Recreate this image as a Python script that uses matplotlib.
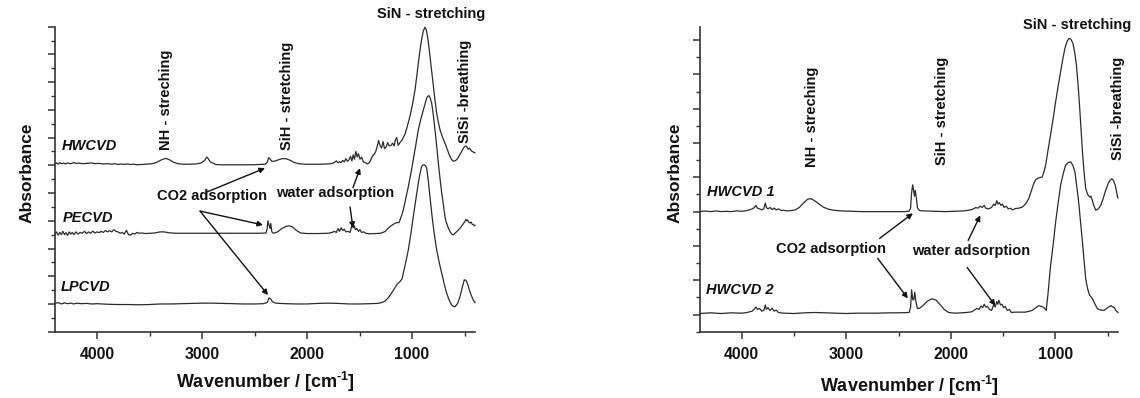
import matplotlib
matplotlib.use("Agg")
import matplotlib.pyplot as plt
from matplotlib.ticker import MultipleLocator, NullFormatter

plt.rcParams['font.family'] = ['Liberation Sans', 'DejaVu Sans']
plt.rcParams['font.weight'] = 'bold'
plt.rcParams['mathtext.fontset'] = 'custom'
plt.rcParams['mathtext.rm'] = 'Liberation Sans:bold'
plt.rcParams['mathtext.bf'] = 'Liberation Sans:bold'
plt.rcParams['mathtext.it'] = 'Liberation Sans:bold:italic'

# ---------------- spectra (wavenumber in cm^-1, absorbance with stacking offset) ----------------
left_hwcvd_wn = [4400, 4385, 4370, 4355, 4340, 4320, 4300, 4280, 4260, 4240, 4220, 4200, 4170, 4140, 4100,
                 4060, 4020, 3980, 3940, 3900, 3860, 3830, 3800, 3770, 3740, 3710, 3680, 3650, 3620, 3580,
                 3540, 3500, 3460, 3420, 3380, 3345, 3310, 3270, 3230, 3180, 3120, 3060, 3010, 2975, 2955,
                 2940, 2920, 2895, 2870, 2830, 2760, 2680, 2600, 2520, 2450, 2400, 2380, 2365, 2350, 2335,
                 2310, 2280, 2240, 2200, 2160, 2120, 2080, 2020, 1950, 1880, 1810, 1770, 1740, 1720, 1705,
                 1690, 1675, 1660, 1645, 1630, 1615, 1600, 1585, 1572, 1560, 1548, 1535, 1522, 1510, 1495,
                 1480, 1462, 1445, 1425, 1405, 1390, 1375, 1360, 1345, 1330, 1318, 1305, 1290, 1276, 1262,
                 1248, 1232, 1218, 1200, 1185, 1170, 1158, 1145, 1132, 1115, 1100, 1083, 1067, 1045, 1019,
                 995, 971, 955, 940, 924, 908, 892, 876, 863, 851, 840, 829, 813, 797, 781,
                 765, 749, 733, 710, 686, 665, 645, 625, 605, 585, 565, 545, 525, 505, 490,
                 475, 463, 452, 440, 428, 415, 400]
left_hwcvd_abs = [6.05, 6.09, 6.04, 6.10, 6.06, 6.08, 6.05, 6.09, 6.06, 6.07, 6.10, 6.07, 6.08, 6.06, 6.07,
                  6.09, 6.06, 6.07, 6.05, 6.06, 6.04, 6.06, 6.03, 6.05, 6.03, 6.05, 6.03, 6.04, 6.02, 6.03,
                  6.04, 6.05, 6.07, 6.13, 6.21, 6.25, 6.20, 6.11, 6.06, 6.04, 6.04, 6.05, 6.08, 6.18, 6.30,
                  6.24, 6.12, 6.08, 6.03, 6.02, 6.02, 6.02, 6.02, 6.02, 6.03, 6.04, 6.10, 6.28, 6.22, 6.14,
                  6.15, 6.19, 6.24, 6.24, 6.18, 6.10, 6.06, 6.04, 6.04, 6.04, 6.05, 6.06, 6.10, 6.16, 6.09,
                  6.13, 6.10, 6.18, 6.12, 6.24, 6.15, 6.20, 6.32, 6.16, 6.38, 6.22, 6.50, 6.30, 6.42, 6.22,
                  6.30, 6.12, 6.10, 6.05, 6.10, 6.22, 6.35, 6.40, 6.50, 6.70, 6.90, 6.72, 6.62, 6.86, 6.60,
                  6.65, 6.82, 6.70, 6.72, 6.80, 6.70, 6.92, 7.00, 6.72, 6.82, 6.88, 7.00, 7.12, 7.40, 7.78,
                  8.20, 8.73, 9.20, 9.68, 10.15, 10.55, 10.85, 10.98, 10.88, 10.62, 10.30, 9.93, 9.40, 8.84, 8.35,
                  7.88, 7.55, 7.28, 7.02, 6.80, 6.58, 6.38, 6.22, 6.15, 6.17, 6.25, 6.38, 6.52, 6.65, 6.70,
                  6.66, 6.58, 6.62, 6.55, 6.50, 6.48, 6.45]

left_pecvd_wn = [4400, 4385, 4370, 4355, 4340, 4325, 4310, 4295, 4280, 4265, 4250, 4235, 4220, 4200, 4180,
                 4160, 4140, 4120, 4100, 4080, 4060, 4040, 4020, 4000, 3980, 3960, 3940, 3920, 3900, 3880,
                 3860, 3840, 3820, 3800, 3780, 3760, 3740, 3720, 3700, 3680, 3660, 3640, 3620, 3600, 3570,
                 3540, 3500, 3450, 3400, 3360, 3320, 3250, 3150, 3050, 2950, 2850, 2750, 2650, 2550, 2450,
                 2390, 2380, 2372, 2362, 2352, 2345, 2335, 2320, 2280, 2240, 2200, 2170, 2140, 2100, 2060,
                 2000, 1900, 1800, 1760, 1740, 1720, 1705, 1690, 1675, 1660, 1645, 1630, 1610, 1590, 1580,
                 1570, 1560, 1550, 1540, 1525, 1510, 1495, 1480, 1460, 1440, 1400, 1350, 1300, 1257, 1230,
                 1200, 1175, 1162, 1140, 1125, 1114, 1098, 1083, 1060, 1035, 1010, 988, 963, 940, 915,
                 892, 875, 860, 848, 838, 826, 813, 797, 781, 765, 749, 733, 717, 700, 686,
                 678, 670, 655, 638, 622, 607, 590, 575, 560, 543, 525, 510, 495, 485, 479,
                 470, 460, 448, 438, 428, 416, 405, 400]
left_pecvd_abs = [3.52, 3.60, 3.48, 3.58, 3.50, 3.62, 3.50, 3.57, 3.47, 3.60, 3.52, 3.58, 3.50, 3.60, 3.52,
                  3.58, 3.55, 3.62, 3.54, 3.60, 3.55, 3.63, 3.56, 3.60, 3.57, 3.62, 3.58, 3.65, 3.60, 3.64,
                  3.60, 3.68, 3.62, 3.60, 3.55, 3.58, 3.52, 3.66, 3.50, 3.48, 3.55, 3.52, 3.58, 3.55, 3.56,
                  3.54, 3.55, 3.56, 3.60, 3.60, 3.57, 3.55, 3.55, 3.55, 3.55, 3.55, 3.55, 3.55, 3.55, 3.55,
                  3.56, 3.70, 4.00, 3.85, 3.72, 3.90, 3.60, 3.55, 3.60, 3.72, 3.80, 3.82, 3.78, 3.65, 3.56,
                  3.54, 3.54, 3.55, 3.58, 3.62, 3.58, 3.72, 3.62, 3.75, 3.65, 3.70, 3.60, 3.62, 3.58, 3.72,
                  3.90, 3.75, 3.82, 3.68, 3.72, 3.62, 3.68, 3.58, 3.60, 3.55, 3.53, 3.54, 3.55, 3.61, 3.72,
                  3.82, 3.88, 3.91, 3.94, 3.93, 4.03, 4.20, 4.39, 4.80, 5.23, 5.72, 6.20, 6.75, 7.28, 7.68,
                  8.00, 8.25, 8.43, 8.50, 8.51, 8.42, 8.25, 7.82, 7.28, 6.70, 6.08, 5.52, 5.00, 4.55, 4.15,
                  4.00, 3.91, 3.75, 3.61, 3.52, 3.49, 3.55, 3.60, 3.66, 3.73, 3.82, 3.90, 3.98, 4.05, 4.00,
                  4.03, 3.95, 3.92, 3.96, 3.88, 3.86, 3.82, 3.84]

left_lpcvd_wn = [4400, 4370, 4340, 4310, 4280, 4250, 4220, 4190, 4150, 4100, 4050, 4000, 3900, 3800, 3700,
                 3600, 3500, 3400, 3300, 3200, 3100, 3000, 2900, 2800, 2700, 2600, 2500, 2420, 2380, 2360,
                 2345, 2330, 2300, 2200, 2100, 2000, 1900, 1800, 1700, 1600, 1500, 1400, 1330, 1300, 1257,
                 1220, 1180, 1140, 1114, 1095, 1083, 1060, 1035, 1010, 988, 963, 940, 924, 908, 897,
                 886, 873, 860, 845, 829, 813, 797, 781, 765, 741, 717, 693, 670, 645, 622,
                 605, 590, 565, 543, 520, 502, 490, 479, 463, 448, 430, 416, 400]
left_lpcvd_abs = [1.02, 1.05, 1.00, 1.04, 1.01, 1.03, 1.00, 1.03, 1.01, 1.02, 1.00, 1.01, 0.99, 0.98, 0.98,
                  0.97, 0.98, 1.00, 1.00, 1.01, 1.02, 1.03, 1.03, 1.02, 1.01, 1.00, 1.00, 1.01, 1.05, 1.22,
                  1.18, 1.08, 1.03, 1.01, 1.00, 1.00, 1.02, 1.03, 1.02, 1.00, 1.00, 1.01, 1.02, 1.04, 1.10,
                  1.25, 1.48, 1.72, 1.81, 1.90, 2.11, 2.50, 2.95, 3.55, 4.15, 4.78, 5.36, 5.70, 5.96, 6.01,
                  6.02, 5.99, 5.90, 5.45, 4.87, 4.30, 3.79, 3.35, 2.95, 2.50, 2.11, 1.72, 1.39, 1.13, 0.96,
                  0.91, 0.90, 1.02, 1.26, 1.62, 1.87, 1.86, 1.81, 1.62, 1.44, 1.26, 1.14, 1.05]

right_hwcvd1_wn = [4400, 4350, 4300, 4250, 4200, 4150, 4100, 4050, 4000, 3950, 3900, 3880, 3865, 3850, 3830,
                   3810, 3790, 3775, 3765, 3750, 3730, 3710, 3690, 3670, 3650, 3620, 3600, 3570, 3530, 3490,
                   3450, 3410, 3370, 3340, 3310, 3270, 3220, 3170, 3120, 3050, 2950, 2850, 2750, 2650, 2550,
                   2450, 2400, 2385, 2375, 2365, 2355, 2348, 2340, 2330, 2318, 2300, 2250, 2150, 2050, 1950,
                   1880, 1830, 1790, 1760, 1740, 1720, 1700, 1680, 1665, 1640, 1610, 1590, 1575, 1560, 1548,
                   1535, 1520, 1505, 1490, 1470, 1450, 1430, 1410, 1382, 1350, 1317, 1285, 1254, 1230, 1206,
                   1190, 1173, 1150, 1125, 1110, 1093, 1070, 1045, 1020, 997, 973, 949, 928, 908, 888,
                   869, 850, 831, 815, 798, 782, 766, 753, 740, 725, 709, 690, 670, 660, 651,
                   632, 613, 590, 565, 540, 520, 500, 480, 459, 443, 427, 415, 404, 400]
right_hwcvd1_abs = [3.00, 3.02, 3.00, 3.02, 3.00, 3.01, 3.00, 3.02, 3.01, 3.03, 3.08, 3.12, 3.18, 3.10, 3.08,
                    3.05, 3.08, 3.25, 3.12, 3.08, 3.12, 3.06, 3.10, 3.05, 3.08, 3.03, 3.04, 3.02, 3.03, 3.05,
                    3.12, 3.25, 3.36, 3.38, 3.33, 3.24, 3.13, 3.07, 3.04, 3.02, 3.01, 3.00, 3.00, 3.00, 3.00,
                    3.00, 3.01, 3.10, 3.55, 3.78, 3.60, 3.45, 3.62, 3.40, 3.10, 3.03, 3.02, 3.01, 3.00, 3.01,
                    3.02, 3.04, 3.07, 3.12, 3.10, 3.16, 3.12, 3.18, 3.10, 3.08, 3.12, 3.22, 3.18, 3.32, 3.22,
                    3.26, 3.18, 3.22, 3.12, 3.16, 3.08, 3.10, 3.05, 3.09, 3.10, 3.13, 3.22, 3.38, 3.60, 3.82,
                    3.92, 3.96, 3.99, 4.01, 4.15, 4.35, 4.78, 5.23, 5.72, 6.20, 6.65, 7.07, 7.45, 7.76, 7.96,
                    8.05, 8.02, 7.90, 7.65, 7.27, 6.70, 6.00, 5.35, 4.74, 4.15, 3.67, 3.50, 3.42, 3.45, 3.38,
                    3.18, 3.04, 3.08, 3.18, 3.40, 3.60, 3.77, 3.90, 3.96, 3.90, 3.77, 3.60, 3.42, 3.40]

right_hwcvd2_wn = [4400, 4300, 4200, 4100, 4000, 3950, 3900, 3880, 3865, 3850, 3830, 3810, 3790, 3775, 3765,
                   3750, 3730, 3710, 3690, 3670, 3650, 3600, 3500, 3400, 3300, 3200, 3100, 3000, 2900, 2800,
                   2700, 2600, 2500, 2400, 2385, 2375, 2365, 2355, 2345, 2335, 2320, 2300, 2260, 2220, 2180,
                   2140, 2100, 2060, 2020, 1960, 1900, 1850, 1800, 1770, 1750, 1730, 1710, 1695, 1680, 1665,
                   1650, 1630, 1610, 1590, 1575, 1560, 1550, 1540, 1525, 1510, 1495, 1480, 1460, 1440, 1420,
                   1382, 1285, 1221, 1158, 1110, 1087, 1070, 1045, 1020, 997, 973, 949, 925, 901, 877,
                   853, 832, 812, 793, 773, 757, 740, 725, 709, 693, 677, 660, 644, 620, 596,
                   565, 533, 500, 468, 452, 436, 420, 404, 400]
right_hwcvd2_abs = [0.03, 0.05, 0.03, 0.05, 0.04, 0.06, 0.10, 0.16, 0.22, 0.15, 0.18, 0.10, 0.12, 0.28, 0.15,
                    0.20, 0.12, 0.18, 0.10, 0.13, 0.06, 0.04, 0.03, 0.05, 0.06, 0.05, 0.04, 0.03, 0.04, 0.04,
                    0.04, 0.05, 0.05, 0.06, 0.20, 0.72, 0.45, 0.42, 0.65, 0.40, 0.18, 0.18, 0.28, 0.40, 0.46,
                    0.42, 0.28, 0.14, 0.06, 0.04, 0.05, 0.06, 0.08, 0.14, 0.18, 0.15, 0.25, 0.20, 0.30, 0.22,
                    0.24, 0.15, 0.12, 0.28, 0.22, 0.38, 0.30, 0.42, 0.28, 0.30, 0.20, 0.24, 0.12, 0.15, 0.06,
                    0.07, 0.07, 0.12, 0.26, 0.21, 0.12, 0.60, 1.43, 2.05, 2.69, 3.25, 3.77, 4.10, 4.35, 4.43,
                    4.45, 4.35, 4.15, 3.70, 3.18, 2.65, 2.11, 1.58, 1.04, 0.78, 0.60, 0.52, 0.46, 0.30, 0.17,
                    0.13, 0.12, 0.20, 0.26, 0.22, 0.21, 0.12, 0.07, 0.06]

x_ticks = [4000, 3000, 2000, 1000]
x_tick_labels = ['4000', '3000', '2000', '1000']

LINE = '#2b2b2b'
INK = '#111111'
FS = 10.5

W, H = 1140, 398
fig = plt.figure(figsize=(W / 100, H / 100), dpi=100)

ax_l = fig.add_axes([55 / W, 1 - 331.7 / H, 420 / W, 305 / H])
ax_r = fig.add_axes([700 / W, 1 - 331.7 / H, 418 / W, 305 / H])


def style_axes(ax, ylim):
    ax.set_xlim(4400, 400)
    ax.set_ylim(*ylim)
    for side in ('top', 'right'):
        ax.spines[side].set_visible(False)
    for side in ('left', 'bottom'):
        ax.spines[side].set_color('#333333')
        ax.spines[side].set_linewidth(1.2)
    ax.set_xticks(x_ticks)
    ax.set_xticklabels(x_tick_labels, fontsize=11.4, fontweight='bold', color=INK)
    ax.xaxis.set_minor_locator(MultipleLocator(500))
    ax.yaxis.set_major_locator(MultipleLocator(1))
    ax.yaxis.set_minor_locator(MultipleLocator(0.5))
    ax.yaxis.set_major_formatter(NullFormatter())
    ax.tick_params(which='major', direction='out', length=5, width=1.1, color='#333333', pad=6)
    ax.tick_params(which='minor', direction='out', length=3, width=1.0, color='#333333')


style_axes(ax_l, (0, 11))
style_axes(ax_r, (-0.5, 8.39))

for wn, ab in ((left_hwcvd_wn, left_hwcvd_abs), (left_pecvd_wn, left_pecvd_abs),
               (left_lpcvd_wn, left_lpcvd_abs)):
    ax_l.plot(wn, ab, color=LINE, lw=0.9, clip_on=False)
for wn, ab in ((right_hwcvd1_wn, right_hwcvd1_abs), (right_hwcvd2_wn, right_hwcvd2_abs)):
    ax_r.plot(wn, ab, color=LINE, lw=0.9, clip_on=False)

bold = dict(fontsize=FS, fontweight='bold', color=INK)
vert = dict(rotation=90, ha='center', va='bottom', **bold)
name = dict(fontsize=FS, fontweight='bold', style='italic', color=INK, ha='left', va='center')
arrow = dict(arrowstyle='-|>', lw=1.0, color=INK, mutation_scale=8, shrinkA=0, shrinkB=0)

# left panel labels
ax_l.text(819, 11.46, 'SiN - stretching', ha='center', va='center', clip_on=False, **bold)
ax_l.text(3343, 6.56, 'NH - streching', **vert)
ax_l.text(2190, 6.56, 'SiH - stretching', **vert)
ax_l.text(495, 6.8, 'SiSi -breathing', **vert)
ax_l.text(4333, 6.70, 'HWCVD', **name)
ax_l.text(4324, 4.10, 'PECVD', **name)
ax_l.text(4343, 1.61, 'LPCVD', **name)
ax_l.text(2905, 4.89, 'CO2 adsorption', ha='center', va='center', **bold)
ax_l.text(1733, 5.00, 'water adsorption', ha='center', va='center', **bold)
ax_l.annotate('', xy=(2400, 5.90), xytext=(2952, 5.04), arrowprops=arrow)
ax_l.annotate('', xy=(2419, 3.85), xytext=(3019, 4.35), arrowprops=arrow)
ax_l.annotate('', xy=(2371, 1.32), xytext=(3019, 4.35), arrowprops=arrow)
ax_l.annotate('', xy=(1495, 5.90), xytext=(1562, 5.19), arrowprops=arrow)
ax_l.annotate('', xy=(1562, 3.74), xytext=(1590, 4.50), arrowprops=arrow)

# right panel labels
ax_r.text(795, 8.44, 'SiN - stretching', ha='center', va='center', clip_on=False, **bold)
ax_r.text(3324, 4.29, 'NH - streching', **vert)
ax_r.text(2084, 4.35, 'SiH - stretching', **vert)
ax_r.text(400, 4.50, 'SiSi -breathing', **vert)
ax_r.text(4334, 3.56, 'HWCVD 1', **name)
ax_r.text(4343, 0.73, 'HWCVD 2', **name)
ax_r.text(3142, 1.90, 'CO2 adsorption', ha='center', va='center', **bold)
ax_r.text(1805, 1.84, 'water adsorption', ha='center', va='center', **bold)
ax_r.annotate('', xy=(2363, 2.95), xytext=(2681, 2.22), arrowprops=arrow)
ax_r.annotate('', xy=(2411, 0.47), xytext=(2700, 1.64), arrowprops=arrow)
ax_r.annotate('', xy=(1718, 2.89), xytext=(1834, 2.16), arrowprops=arrow)
ax_r.annotate('', xy=(1574, 0.26), xytext=(1843, 1.37), arrowprops=arrow)

# axis titles
for cx in (27, 675):
    fig.text(cx / W, 1 - 173 / H, 'Absorbance', rotation=90, ha='center', va='center',
             fontsize=12.5, fontweight='bold', color=INK)
for cx, cy in ((265, 382), (909, 386)):
    fig.text(cx / W, 1 - cy / H, r'Wavenumber / [cm$^{\text{-1}}$]', ha='center', va='center',
             fontsize=13, fontweight='bold', color=INK)

fig.savefig('out.png', dpi=100, facecolor='white')
